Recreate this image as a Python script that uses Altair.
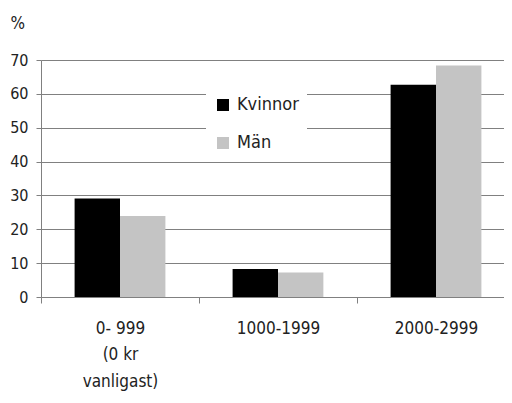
import altair as alt
import pandas as pd

categories = ["0- 999\n(0 kr\nvanligast)", "1000-1999", "2000-2999"]
series = ["Kvinnor", "Män"]
kvinnor = [29.1, 8.3, 62.7]
man = [23.9, 7.2, 68.4]
colors = ["#000000", "#c4c4c4"]
y_ticks = [0, 10, 20, 30, 40, 50, 60, 70]

rows = []
for c, k, m in zip(categories, kvinnor, man):
    rows.append({"kat": c, "kon": series[0], "v": k})
    rows.append({"kat": c, "kon": series[1], "v": m})
df = pd.DataFrame(rows)

FONT = "DejaVu Sans Condensed, Lato, sans-serif"

bars = alt.Chart(df).mark_bar().encode(
    x=alt.X("kat:N", sort=categories,
            scale=alt.Scale(paddingInner=0, paddingOuter=0),
            axis=alt.Axis(title=None, labelAngle=0, tickBand="extent",
                          domainColor="#808080", tickColor="#808080",
                          tickSize=6, labelPadding=17,
                          labelExpr="split(datum.label, '\\n')",
                          labelFont=FONT, labelFontSize=17, labelColor="#222222",
                          labelLineHeight=26.5, labelBaseline="top")),
    xOffset=alt.XOffset("kon:N", sort=series,
                        scale=alt.Scale(paddingInner=0, paddingOuter=0.74)),
    y=alt.Y("v:Q", scale=alt.Scale(domain=[0, 70], nice=False),
            axis=alt.Axis(values=y_ticks, title="%", titleAngle=0,
                          titleX=-31, titleY=-37, titleAlign="left",
                          titleBaseline="middle", titleFont=FONT,
                          titleFontSize=17, titleFontWeight="normal",
                          titleColor="#222222",
                          gridColor="#808080", domainColor="#808080",
                          tickColor="#808080", tickSize=5, labelPadding=8,
                          labelFont=FONT, labelFontSize=16, labelColor="#222222")),
    color=alt.Color("kon:N", sort=series,
                    scale=alt.Scale(domain=series, range=colors),
                    legend=alt.Legend(title=None, orient="none",
                                      legendX=165, legendY=28,
                                      fillColor="white", padding=8,
                                      symbolType="square", symbolSize=144,
                                      symbolStrokeWidth=0, rowPadding=20,
                                      labelFont=FONT, labelFontSize=18,
                                      labelColor="#222222", labelOffset=5)),
)

chart = bars.properties(
    width=474, height=237,
    autosize=alt.AutoSizeParams(type="none"),
    padding={"left": 33, "top": 52, "right": -11, "bottom": 94},
).configure_view(stroke=None).configure_axis(gridWidth=1, domainWidth=1)

chart.save("out.html", embed_options={"renderer": "svg", "actions": False})
